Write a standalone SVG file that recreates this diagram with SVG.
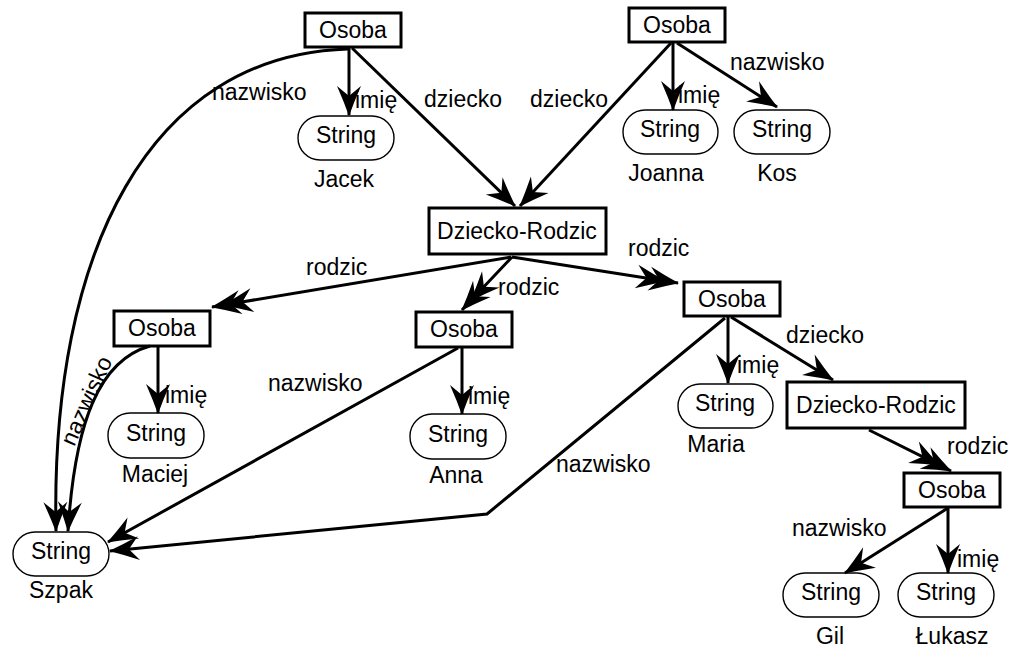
<svg xmlns="http://www.w3.org/2000/svg" width="1014" height="647" viewBox="0 0 1014 647">
<style>
text{font-family:"Liberation Sans",Arial,sans-serif;font-size:23px;fill:#000}
.c{text-anchor:middle}
.box{fill:#fff;stroke:#000;stroke-width:3}
.str{fill:#fff;stroke:#000;stroke-width:1.4}
.e{fill:none;stroke:#000;stroke-width:3;marker-end:url(#ah)}
.d{marker-mid:url(#ah)}
</style>
<defs>
<marker id="ah" markerUnits="userSpaceOnUse" viewBox="-32 -14 34 28" markerWidth="34" markerHeight="28" refX="0" refY="0" orient="auto">
<path d="M1,0 Q-13,-5 -29,-12 L-19,0 L-29,12 Q-13,5 1,0 Z" fill="#000"/>
</marker>
</defs>
<rect width="1014" height="647" fill="#fff"/>
<g id="osoba1"><rect class="box" x="305" y="13" width="96" height="34"/><text class="c" x="353" y="38">Osoba</text></g>
<g id="osoba2"><rect class="box" x="629" y="8" width="96" height="34"/><text class="c" x="677" y="33">Osoba</text></g>
<g id="str-jacek"><rect class="str" x="298" y="116" width="96" height="44" rx="22"/><text class="c" x="346" y="143">String</text><text class="c" x="344" y="187">Jacek</text></g>
<g id="str-joanna"><rect class="str" x="623" y="110" width="95" height="44" rx="22"/><text class="c" x="670" y="137">String</text><text class="c" x="666" y="181">Joanna</text></g>
<g id="str-kos"><rect class="str" x="734" y="110" width="96" height="44" rx="22"/><text class="c" x="782" y="137">String</text><text class="c" x="777" y="181">Kos</text></g>
<g id="dr1"><rect class="box" x="429" y="208" width="177" height="46"/><text class="c" x="517" y="239">Dziecko-Rodzic</text></g>
<g id="osobaL"><rect class="box" x="114" y="311" width="96" height="35"/><text class="c" x="162" y="336">Osoba</text></g>
<g id="osobaM"><rect class="box" x="416" y="312" width="96" height="35"/><text class="c" x="464" y="337">Osoba</text></g>
<g id="osobaR"><rect class="box" x="684" y="282" width="96" height="34"/><text class="c" x="732" y="307">Osoba</text></g>
<g id="str-maciej"><rect class="str" x="108" y="413" width="96" height="45" rx="22"/><text class="c" x="156" y="441">String</text><text class="c" x="155" y="482">Maciej</text></g>
<g id="str-anna"><rect class="str" x="410" y="414" width="96" height="45" rx="22"/><text class="c" x="458" y="442">String</text><text class="c" x="456" y="483">Anna</text></g>
<g id="str-maria"><rect class="str" x="678" y="384" width="95" height="44" rx="22"/><text class="c" x="725" y="411">String</text><text class="c" x="716" y="452">Maria</text></g>
<g id="dr2"><rect class="box" x="787" y="382" width="178" height="46"/><text class="c" x="876" y="413">Dziecko-Rodzic</text></g>
<g id="osobaBR"><rect class="box" x="904" y="473" width="96" height="34"/><text class="c" x="952" y="498">Osoba</text></g>
<g id="str-szpak"><rect class="str" x="13" y="532" width="96" height="44" rx="22"/><text class="c" x="61" y="559">String</text><text class="c" x="61" y="598">Szpak</text></g>
<g id="str-gil"><rect class="str" x="783" y="573" width="96" height="44" rx="22"/><text class="c" x="831" y="600">String</text><text class="c" x="830" y="644">Gil</text></g>
<g id="str-lukasz"><rect class="str" x="898" y="573" width="96" height="44" rx="22"/><text class="c" x="946" y="600">String</text><text class="c" x="952" y="644">Łukasz</text></g>
<g id="connectors">
<path class="e" d="M349,47 L349,115"/>
<path class="e" d="M352,48 L515,206"/>
<path class="e" d="M348,49 C150,55 50,250 56,531"/>
<path class="e" d="M671,43 L520,206"/>
<path class="e" d="M673,43 L673,110"/>
<path class="e" d="M677,43 L777,107"/>
<path class="e d" d="M511,257 L223.8,305 L212,307"/>
<path class="e d" d="M512,257 L470.9,300.5 L462,310"/>
<path class="e d" d="M512,257 L665.2,281 L678,283"/>
<path class="e" d="M158,346 L158,413"/>
<path class="e" d="M150,346 C100,360 75,420 68,531"/>
<path class="e" d="M462,347 L462,414"/>
<path class="e" d="M458,348 L108,542"/>
<path class="e" d="M728,316 L728,383"/>
<path class="e" d="M731,317 L833,380"/>
<path class="e" d="M725,318 L487,514 L110,551"/>
<path class="e d" d="M869,430 L939.4,465.2 L951,471"/>
<path class="e" d="M948,508 L845,573"/>
<path class="e" d="M948,508 L948,573"/>
<text x="355" y="108">imię</text>
<text x="424" y="107">dziecko</text>
<text x="212" y="100">nazwisko</text>
<text x="530" y="107">dziecko</text>
<text x="678" y="103">imię</text>
<text x="730" y="70">nazwisko</text>
<text x="306" y="275">rodzic</text>
<text x="498" y="295">rodzic</text>
<text x="628" y="256">rodzic</text>
<text x="165" y="403">imię</text>
<text class="c" transform="translate(93.5,404) rotate(-66)">nazwisko</text>
<text x="468" y="404">imię</text>
<text x="268" y="391">nazwisko</text>
<text x="737" y="373">imię</text>
<text x="786" y="343">dziecko</text>
<text x="556" y="472">nazwisko</text>
<text x="947" y="454">rodzic</text>
<text x="792" y="536">nazwisko</text>
<text x="957" y="567">imię</text>
</g>
</svg>
